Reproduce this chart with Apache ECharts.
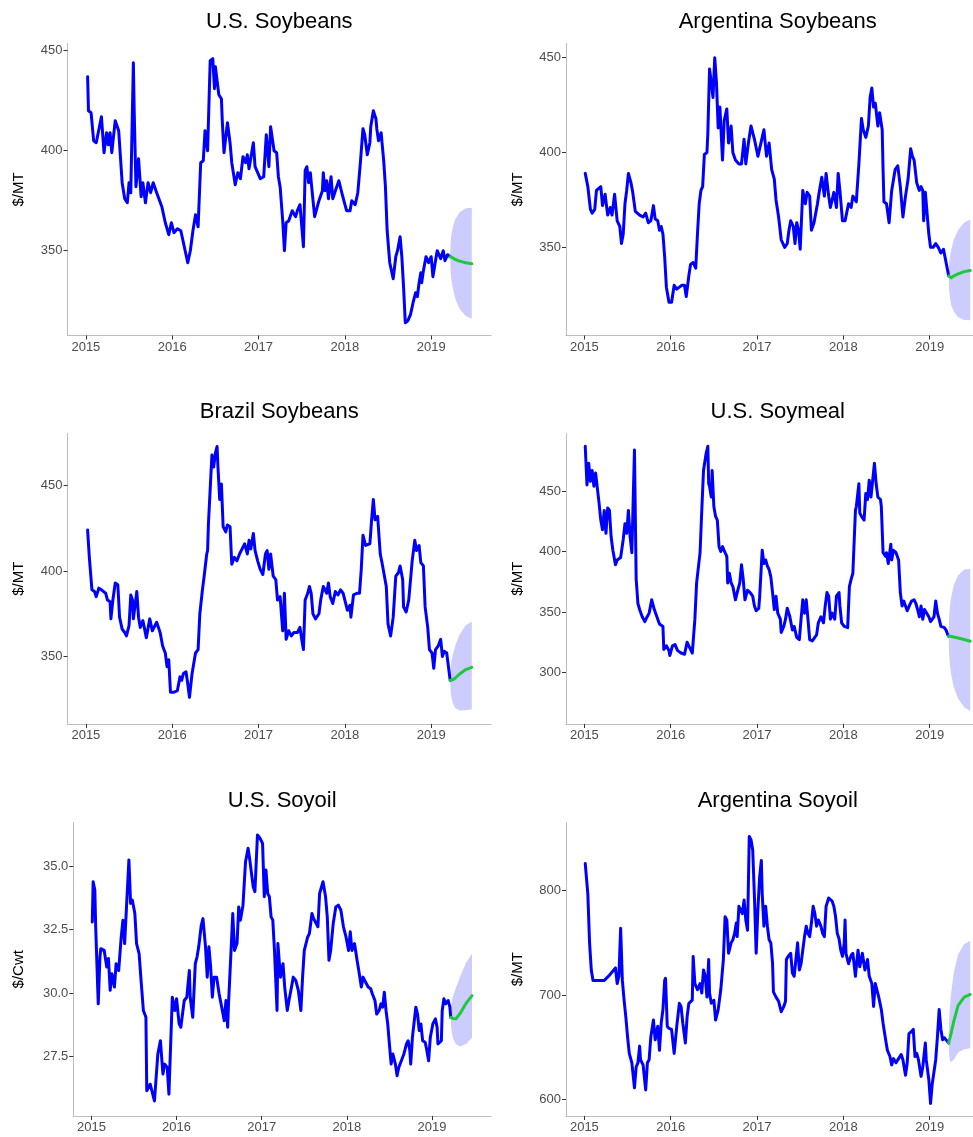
<!DOCTYPE html>
<html>
<head>
<meta charset="utf-8">
<title>Soybean complex prices and forecasts</title>
<script src="https://cdn.jsdelivr.net/npm/echarts@6.0.0/dist/echarts.min.js"></script>
<style>
  html, body { margin: 0; padding: 0; background: #ffffff; }
  #chart { width: 973px; height: 1137px; }
</style>
</head>
<body>
<div id="chart"></div>
<script>
// ---- Data: weekly prices as [decimal year, price] ----
const yearTicks = [2015, 2016, 2017, 2018, 2019];

const usSoybeans = [[2015.02,437],[2015.03,420],[2015.06,419],[2015.09,405],[2015.12,404],[2015.18,417],[2015.21,399],[2015.24,409],[2015.26,403],[2015.28,409],[2015.30,399],[2015.34,415],[2015.38,410],[2015.42,384],[2015.45,376],[2015.48,374],[2015.50,384],[2015.52,379],[2015.55,444],[2015.56,419],[2015.58,382],[2015.61,396],[2015.64,377],[2015.66,384],[2015.69,374],[2015.72,384],[2015.75,379],[2015.78,384],[2015.82,379],[2015.88,372],[2015.92,364],[2015.96,358],[2015.99,364],[2016.02,359],[2016.06,361],[2016.10,360],[2016.14,352],[2016.18,344],[2016.21,350],[2016.24,360],[2016.27,368],[2016.30,362],[2016.33,394],[2016.36,395],[2016.38,410],[2016.41,400],[2016.44,445],[2016.47,446],[2016.49,431],[2016.50,442],[2016.52,442],[2016.54,428],[2016.57,426],[2016.58,415],[2016.60,399],[2016.64,414],[2016.67,404],[2016.69,394],[2016.73,383],[2016.76,389],[2016.79,386],[2016.82,397],[2016.85,394],[2016.87,398],[2016.89,391],[2016.94,404],[2016.96,392],[2017.02,386],[2017.06,387],[2017.09,408],[2017.12,392],[2017.14,412],[2017.18,400],[2017.21,399],[2017.23,387],[2017.25,382],[2017.28,365],[2017.30,350],[2017.32,364],[2017.35,365],[2017.39,370],[2017.43,367],[2017.45,370],[2017.48,373],[2017.52,352],[2017.54,390],[2017.56,392],[2017.58,384],[2017.60,389],[2017.62,380],[2017.65,367],[2017.70,375],[2017.74,380],[2017.75,389],[2017.77,380],[2017.79,385],[2017.81,376],[2017.84,387],[2017.86,376],[2017.89,380],[2017.93,385],[2017.97,378],[2018.02,370],[2018.06,370],[2018.08,375],[2018.12,373],[2018.15,379],[2018.18,394],[2018.21,411],[2018.23,408],[2018.26,398],[2018.29,404],[2018.30,412],[2018.33,420],[2018.36,416],[2018.37,411],[2018.39,405],[2018.42,409],[2018.45,395],[2018.47,382],[2018.49,360],[2018.52,344],[2018.56,336],[2018.59,347],[2018.61,350],[2018.64,357],[2018.66,347],[2018.68,332],[2018.70,314],[2018.73,315],[2018.76,318],[2018.79,324],[2018.82,329],[2018.84,327],[2018.86,334],[2018.88,339],[2018.89,334],[2018.91,340],[2018.94,347],[2018.97,344],[2019.00,347],[2019.02,337],[2019.05,345],[2019.07,350],[2019.09,349],[2019.11,346],[2019.14,350],[2019.16,345],[2019.19,348],[2019.22,347]];

const argSoybeans = [[2015.01,389],[2015.04,382],[2015.07,370],[2015.09,368],[2015.12,370],[2015.14,380],[2015.16,380],[2015.19,382],[2015.21,372],[2015.24,378],[2015.27,367],[2015.30,371],[2015.32,367],[2015.35,378],[2015.36,377],[2015.38,364],[2015.41,361],[2015.43,352],[2015.45,357],[2015.47,373],[2015.49,380],[2015.51,389],[2015.54,384],[2015.56,379],[2015.59,369],[2015.64,367],[2015.68,366],[2015.71,368],[2015.74,363],[2015.77,364],[2015.80,372],[2015.82,365],[2015.85,364],[2015.87,359],[2015.89,361],[2015.91,357],[2015.93,345],[2015.95,329],[2015.98,321],[2016.01,321],[2016.04,330],[2016.07,328],[2016.10,329],[2016.13,330],[2016.16,330],[2016.18,324],[2016.21,335],[2016.23,341],[2016.26,342],[2016.29,339],[2016.31,357],[2016.33,373],[2016.35,380],[2016.37,382],[2016.39,399],[2016.42,400],[2016.43,410],[2016.45,444],[2016.47,437],[2016.49,429],[2016.51,450],[2016.53,437],[2016.55,413],[2016.57,424],[2016.60,396],[2016.62,417],[2016.65,423],[2016.67,405],[2016.70,414],[2016.72,400],[2016.75,396],[2016.79,394],[2016.82,394],[2016.85,407],[2016.87,394],[2016.90,405],[2016.93,414],[2016.97,407],[2017.01,398],[2017.03,398],[2017.06,408],[2017.08,412],[2017.11,398],[2017.14,405],[2017.17,391],[2017.20,386],[2017.22,375],[2017.25,366],[2017.28,354],[2017.32,350],[2017.35,352],[2017.37,359],[2017.39,364],[2017.42,361],[2017.44,352],[2017.46,363],[2017.48,359],[2017.50,349],[2017.53,380],[2017.56,373],[2017.58,379],[2017.61,377],[2017.63,359],[2017.66,363],[2017.70,373],[2017.72,379],[2017.75,387],[2017.78,377],[2017.80,389],[2017.83,377],[2017.85,371],[2017.89,379],[2017.92,371],[2017.94,389],[2017.96,380],[2017.99,364],[2018.02,364],[2018.06,373],[2018.09,371],[2018.11,377],[2018.15,374],[2018.18,394],[2018.21,418],[2018.23,412],[2018.26,408],[2018.29,414],[2018.31,429],[2018.33,434],[2018.35,424],[2018.37,426],[2018.40,414],[2018.42,421],[2018.45,412],[2018.46,391],[2018.47,374],[2018.50,373],[2018.53,363],[2018.56,380],[2018.60,391],[2018.63,393],[2018.66,382],[2018.69,366],[2018.72,377],[2018.75,386],[2018.78,402],[2018.80,398],[2018.82,396],[2018.85,384],[2018.88,380],[2018.90,382],[2018.92,380],[2018.93,364],[2018.95,379],[2018.97,379],[2018.99,357],[2019.01,350],[2019.04,350],[2019.07,352],[2019.10,350],[2019.13,347],[2019.16,349],[2019.19,342],[2019.22,335]];

const brazilSoybeans = [[2015.02,424],[2015.04,408],[2015.07,389],[2015.10,388],[2015.12,385],[2015.15,390],[2015.18,389],[2015.20,390],[2015.23,387],[2015.25,383],[2015.28,382],[2015.29,372],[2015.31,382],[2015.34,393],[2015.37,392],[2015.39,373],[2015.42,366],[2015.45,364],[2015.47,362],[2015.50,368],[2015.52,386],[2015.54,383],[2015.55,372],[2015.59,388],[2015.61,373],[2015.63,367],[2015.66,371],[2015.70,361],[2015.74,372],[2015.77,365],[2015.79,364],[2015.82,370],[2015.86,364],[2015.89,356],[2015.92,352],[2015.94,344],[2015.96,348],[2015.98,329],[2016.02,329],[2016.06,330],[2016.09,338],[2016.11,336],[2016.13,340],[2016.16,341],[2016.18,334],[2016.20,326],[2016.23,340],[2016.27,352],[2016.30,354],[2016.32,375],[2016.35,389],[2016.37,397],[2016.40,410],[2016.41,412],[2016.42,428],[2016.44,448],[2016.46,468],[2016.48,461],[2016.50,469],[2016.52,473],[2016.53,461],[2016.55,442],[2016.57,451],[2016.59,426],[2016.62,423],[2016.64,427],[2016.67,426],[2016.69,404],[2016.72,408],[2016.75,406],[2016.78,410],[2016.81,413],[2016.84,416],[2016.87,410],[2016.89,418],[2016.91,413],[2016.94,422],[2016.96,412],[2016.99,406],[2017.02,401],[2017.05,398],[2017.08,410],[2017.10,412],[2017.12,401],[2017.14,410],[2017.17,397],[2017.20,395],[2017.22,383],[2017.25,385],[2017.28,365],[2017.29,364],[2017.30,387],[2017.32,360],[2017.35,365],[2017.38,362],[2017.41,364],[2017.45,364],[2017.48,367],[2017.50,360],[2017.52,354],[2017.54,383],[2017.57,387],[2017.59,391],[2017.61,387],[2017.63,375],[2017.66,372],[2017.70,375],[2017.72,383],[2017.75,391],[2017.79,387],[2017.81,393],[2017.83,385],[2017.86,381],[2017.89,388],[2017.92,386],[2017.95,389],[2017.98,387],[2018.00,383],[2018.03,377],[2018.06,380],[2018.07,373],[2018.10,386],[2018.14,387],[2018.17,387],[2018.19,401],[2018.21,421],[2018.24,415],[2018.26,414],[2018.29,416],[2018.31,430],[2018.33,442],[2018.35,430],[2018.38,432],[2018.41,410],[2018.43,405],[2018.45,406],[2018.48,391],[2018.50,369],[2018.53,362],[2018.56,373],[2018.59,397],[2018.62,399],[2018.64,403],[2018.67,395],[2018.68,379],[2018.71,376],[2018.74,383],[2018.78,406],[2018.81,418],[2018.83,412],[2018.86,415],[2018.88,405],[2018.91,403],[2018.93,379],[2018.96,367],[2018.98,354],[2019.01,352],[2019.03,343],[2019.05,354],[2019.08,356],[2019.11,360],[2019.13,350],[2019.15,353],[2019.18,352],[2019.20,344],[2019.22,336]];

const usSoymeal = [[2015.01,487],[2015.03,455],[2015.05,473],[2015.07,458],[2015.09,467],[2015.11,454],[2015.13,465],[2015.15,466],[2015.17,440],[2015.19,426],[2015.21,418],[2015.23,434],[2015.25,415],[2015.27,436],[2015.29,434],[2015.31,412],[2015.33,401],[2015.36,389],[2015.38,393],[2015.42,395],[2015.45,410],[2015.47,423],[2015.49,415],[2015.51,434],[2015.53,412],[2015.55,399],[2015.58,484],[2015.60,377],[2015.62,357],[2015.64,352],[2015.67,346],[2015.70,342],[2015.72,345],[2015.75,349],[2015.78,360],[2015.81,352],[2015.85,344],[2015.87,340],[2015.91,338],[2015.92,319],[2015.95,322],[2015.98,318],[2015.99,314],[2016.02,322],[2016.05,323],[2016.08,318],[2016.12,316],[2016.16,315],[2016.19,325],[2016.21,322],[2016.25,316],[2016.26,316],[2016.28,344],[2016.30,374],[2016.32,374],[2016.34,399],[2016.36,434],[2016.38,467],[2016.41,481],[2016.43,487],[2016.44,456],[2016.45,454],[2016.47,445],[2016.48,467],[2016.50,437],[2016.52,429],[2016.54,426],[2016.56,404],[2016.58,400],[2016.60,404],[2016.63,399],[2016.65,396],[2016.66,374],[2016.68,382],[2016.70,374],[2016.72,371],[2016.75,360],[2016.77,366],[2016.80,374],[2016.82,389],[2016.84,377],[2016.86,360],[2016.89,368],[2016.92,366],[2016.95,363],[2016.97,355],[2016.99,351],[2017.02,353],[2017.03,362],[2017.06,401],[2017.08,390],[2017.10,393],[2017.12,388],[2017.14,385],[2017.16,379],[2017.18,366],[2017.20,352],[2017.22,363],[2017.24,349],[2017.27,344],[2017.28,333],[2017.31,338],[2017.33,344],[2017.35,353],[2017.38,346],[2017.41,335],[2017.43,338],[2017.46,329],[2017.49,327],[2017.51,344],[2017.53,360],[2017.55,349],[2017.57,360],[2017.59,344],[2017.61,327],[2017.64,326],[2017.66,327],[2017.69,331],[2017.71,341],[2017.74,346],[2017.77,341],[2017.79,355],[2017.81,366],[2017.83,363],[2017.85,344],[2017.87,349],[2017.90,344],[2017.92,363],[2017.95,366],[2017.96,355],[2017.98,341],[2018.01,338],[2018.05,337],[2018.07,371],[2018.09,377],[2018.11,382],[2018.14,434],[2018.15,437],[2018.18,456],[2018.19,432],[2018.21,429],[2018.24,426],[2018.26,448],[2018.28,443],[2018.30,459],[2018.32,445],[2018.34,459],[2018.36,473],[2018.38,456],[2018.40,445],[2018.43,443],[2018.44,437],[2018.46,399],[2018.49,396],[2018.50,399],[2018.52,390],[2018.55,406],[2018.56,393],[2018.58,401],[2018.61,399],[2018.64,393],[2018.66,366],[2018.68,355],[2018.70,359],[2018.72,355],[2018.74,351],[2018.77,356],[2018.79,359],[2018.82,360],[2018.84,357],[2018.86,352],[2018.88,346],[2018.90,355],[2018.92,344],[2018.94,352],[2018.96,351],[2018.99,346],[2019.01,342],[2019.05,346],[2019.07,359],[2019.09,349],[2019.11,344],[2019.13,338],[2019.15,338],[2019.17,337],[2019.19,335],[2019.21,331],[2019.22,330]];

const usSoyoil = [[2015.01,32.8],[2015.02,34.38],[2015.04,34.05],[2015.05,32.6],[2015.08,29.58],[2015.10,31.42],[2015.11,31.75],[2015.15,31.68],[2015.18,31.03],[2015.20,31.36],[2015.22,30.11],[2015.24,30.76],[2015.27,30.24],[2015.29,31.16],[2015.32,30.89],[2015.35,32.21],[2015.37,32.87],[2015.39,31.95],[2015.41,31.88],[2015.44,35.24],[2015.46,33.53],[2015.48,33.66],[2015.51,33.13],[2015.53,31.95],[2015.56,31.55],[2015.58,30.63],[2015.61,29.32],[2015.64,29.05],[2015.65,26.16],[2015.69,26.42],[2015.71,26.49],[2015.74,25.76],[2015.76,25.7],[2015.78,27.61],[2015.81,28.13],[2015.84,26.82],[2015.86,27.21],[2015.89,27.08],[2015.91,26.03],[2015.93,26.09],[2015.95,29.84],[2015.98,29.32],[2016.00,29.78],[2016.03,28.79],[2016.05,28.66],[2016.09,29.71],[2016.12,29.84],[2016.15,30.89],[2016.16,29.84],[2016.19,29.05],[2016.22,31.16],[2016.24,31.42],[2016.26,31.82],[2016.29,32.67],[2016.31,32.93],[2016.34,31.82],[2016.36,30.63],[2016.38,31.82],[2016.40,31.03],[2016.42,29.84],[2016.44,30.63],[2016.47,30.63],[2016.50,29.97],[2016.53,29.45],[2016.56,28.92],[2016.58,29.71],[2016.60,28.66],[2016.61,29.58],[2016.64,31.68],[2016.66,33.13],[2016.68,31.68],[2016.71,31.95],[2016.73,33.39],[2016.75,32.87],[2016.78,33.46],[2016.81,35.17],[2016.84,35.7],[2016.86,35.24],[2016.88,34.71],[2016.90,34.18],[2016.92,33.99],[2016.95,36.22],[2016.98,36.09],[2017.01,35.89],[2017.03,33.79],[2017.05,34.84],[2017.07,33.92],[2017.09,33.79],[2017.11,33.0],[2017.13,32.87],[2017.15,31.68],[2017.18,29.32],[2017.19,31.95],[2017.22,30.63],[2017.25,31.16],[2017.27,30.24],[2017.30,29.32],[2017.32,29.71],[2017.35,30.24],[2017.37,30.63],[2017.40,30.5],[2017.43,30.11],[2017.46,29.32],[2017.48,30.63],[2017.50,31.68],[2017.52,31.68],[2017.54,32.21],[2017.56,32.34],[2017.59,33.13],[2017.61,32.93],[2017.64,32.74],[2017.66,32.61],[2017.68,33.92],[2017.70,33.99],[2017.72,34.38],[2017.75,33.79],[2017.77,33.0],[2017.79,31.29],[2017.81,31.68],[2017.84,32.74],[2017.87,33.39],[2017.90,33.46],[2017.93,33.26],[2017.96,32.61],[2017.99,32.21],[2018.02,31.68],[2018.04,32.41],[2018.06,31.68],[2018.09,31.95],[2018.12,31.29],[2018.14,30.89],[2018.17,30.24],[2018.19,30.63],[2018.21,30.5],[2018.23,30.37],[2018.25,30.24],[2018.28,30.17],[2018.30,29.97],[2018.33,29.71],[2018.35,29.18],[2018.38,29.32],[2018.40,29.58],[2018.42,29.45],[2018.44,30.04],[2018.46,29.32],[2018.48,28.79],[2018.50,28.0],[2018.52,27.21],[2018.54,27.61],[2018.57,27.21],[2018.59,26.75],[2018.61,27.08],[2018.64,27.34],[2018.67,27.61],[2018.70,28.0],[2018.72,28.13],[2018.74,27.74],[2018.75,27.21],[2018.77,28.26],[2018.81,29.45],[2018.83,29.18],[2018.85,28.53],[2018.87,28.79],[2018.89,28.13],[2018.92,28.07],[2018.94,27.74],[2018.96,27.34],[2018.98,28.26],[2019.01,28.79],[2019.04,28.99],[2019.06,28.66],[2019.07,28.0],[2019.09,28.0],[2019.11,28.13],[2019.12,29.32],[2019.14,29.78],[2019.16,29.58],[2019.19,29.71],[2019.21,29.45],[2019.22,29.05]];

const argSoyoil = [[2015.01,826],[2015.04,797],[2015.06,750],[2015.08,724],[2015.10,714],[2015.15,714],[2015.23,714],[2015.29,719],[2015.36,726],[2015.38,711],[2015.40,718],[2015.42,764],[2015.44,714],[2015.46,695],[2015.48,679],[2015.50,660],[2015.52,644],[2015.55,635],[2015.58,611],[2015.60,631],[2015.62,635],[2015.64,651],[2015.65,638],[2015.68,633],[2015.71,609],[2015.73,635],[2015.75,638],[2015.77,660],[2015.80,676],[2015.82,657],[2015.85,670],[2015.87,647],[2015.89,673],[2015.91,686],[2015.93,714],[2015.94,716],[2015.96,670],[2015.98,668],[2016.01,667],[2016.04,644],[2016.07,670],[2016.10,692],[2016.12,689],[2016.14,673],[2016.17,654],[2016.19,679],[2016.21,692],[2016.25,695],[2016.26,737],[2016.28,711],[2016.31,705],[2016.34,711],[2016.36,702],[2016.38,724],[2016.40,718],[2016.42,698],[2016.44,734],[2016.45,702],[2016.47,692],[2016.50,695],[2016.52,676],[2016.55,686],[2016.58,705],[2016.61,734],[2016.63,775],[2016.65,772],[2016.67,740],[2016.70,750],[2016.72,753],[2016.74,759],[2016.76,769],[2016.77,756],[2016.79,785],[2016.81,785],[2016.83,778],[2016.85,791],[2016.87,772],[2016.89,762],[2016.91,852],[2016.93,849],[2016.95,839],[2016.97,794],[2016.99,740],[2017.01,782],[2017.03,813],[2017.05,829],[2017.06,797],[2017.08,766],[2017.10,785],[2017.12,766],[2017.14,753],[2017.16,750],[2017.18,730],[2017.19,703],[2017.22,698],[2017.25,694],[2017.28,684],[2017.31,689],[2017.33,694],[2017.34,734],[2017.36,737],[2017.39,740],[2017.41,721],[2017.43,718],[2017.45,734],[2017.47,750],[2017.49,724],[2017.51,730],[2017.53,743],[2017.55,756],[2017.57,766],[2017.59,759],[2017.61,756],[2017.63,769],[2017.65,785],[2017.67,778],[2017.69,766],[2017.71,772],[2017.74,766],[2017.76,759],[2017.78,756],[2017.80,785],[2017.83,793],[2017.85,794],[2017.87,790],[2017.89,785],[2017.91,775],[2017.93,759],[2017.95,754],[2017.97,743],[2017.99,737],[2018.01,750],[2018.02,772],[2018.03,740],[2018.06,730],[2018.09,738],[2018.11,740],[2018.14,718],[2018.15,727],[2018.17,743],[2018.19,727],[2018.22,740],[2018.25,724],[2018.28,734],[2018.30,718],[2018.33,711],[2018.35,689],[2018.37,711],[2018.39,710],[2018.41,698],[2018.44,686],[2018.46,673],[2018.49,657],[2018.51,647],[2018.54,641],[2018.56,633],[2018.58,639],[2018.61,635],[2018.64,639],[2018.67,643],[2018.69,638],[2018.72,623],[2018.74,635],[2018.76,663],[2018.79,665],[2018.81,667],[2018.83,641],[2018.85,644],[2018.87,638],[2018.90,622],[2018.92,631],[2018.95,654],[2018.96,638],[2018.99,619],[2019.01,596],[2019.03,615],[2019.05,615],[2019.07,638],[2019.09,660],[2019.11,686],[2019.13,667],[2019.15,657],[2019.17,659],[2019.19,657],[2019.22,654]];

// ---- Forecasts: point forecast with upper / lower interval bounds ----
const forecastDates = [2019.22, 2019.225, 2019.235, 2019.25, 2019.28, 2019.33, 2019.40, 2019.47];

const usSoybeansFc      = [347, 346.9, 346.7, 346.4, 345.6, 344.8, 344.0, 343.5];
const usSoybeansHi      = [347, 353.9, 358.5, 361.8, 365.8, 369.2, 371.2, 371.5];
const usSoybeansLo      = [347, 340.0, 335.1, 331.3, 325.8, 320.9, 317.3, 316.0];

const argSoybeansFc     = [335, 334.7, 334.2, 334.0, 334.9, 336.0, 337.2, 337.8];
const argSoybeansHi     = [335, 341.4, 345.4, 348.7, 354.1, 359.2, 363.1, 364.5];
const argSoybeansLo     = [335, 328.1, 323.2, 319.5, 316.0, 313.1, 311.7, 311.5];

const brazilSoybeansFc  = [336, 336.0, 336.1, 336.3, 337.4, 339.7, 342.3, 343.6];
const brazilSoybeansHi  = [336, 342.7, 347.3, 351.0, 356.6, 362.9, 368.2, 370.3];
const brazilSoybeansLo  = [336, 329.8, 325.8, 322.8, 319.7, 318.3, 318.4, 319.0];

const usSoymealFc       = [330, 330.0, 329.9, 329.7, 329.2, 328.5, 327.2, 325.8];
const usSoymealHi       = [330, 344.9, 355.0, 362.5, 372.2, 380.4, 385.1, 385.5];
const usSoymealLo       = [330, 315.5, 305.6, 297.9, 287.6, 278.2, 271.1, 268.0];

const usSoyoilFc        = [29.05, 29.04, 29.02, 29.00, 28.99, 29.20, 29.60, 29.90];
const usSoyoilHi        = [29.05, 29.45, 29.72, 29.92, 30.20, 30.65, 31.20, 31.55];
const usSoyoilLo        = [29.05, 28.65, 28.40, 28.20, 28.00, 27.90, 28.00, 28.25];

const argSoyoilFc       = [654, 656, 659, 664, 675, 690, 698, 700.5];
const argSoyoilHi       = [654, 675, 690, 703, 722, 739, 749, 752];
const argSoyoilLo       = [654, 643, 637, 636, 638, 645, 648, 649];

// ---- Tick labels ----
const soyTicks    = [350, 400, 450];
const mealTicks   = [300, 350, 400, 450];
const oilTicks    = [27.5, 30.0, 32.5, 35.0];
const argOilTicks = [600, 700, 800];

// ---- Panel layout ----
// Each panel spans X_MIN..X_MAX over PANEL_W pixels; the right-hand column is
// cut by the page edge, so its grid stops there with a matching axis maximum.
const X_MIN = 2014.787, X_MAX = 2019.693;
const PANEL_W = 423.5;
const PAGE_W = 973;

const panels = [
  { title: 'U.S. Soybeans',      unit: '$/MT',  hist: usSoybeans,     fc: usSoybeansFc,     hi: usSoybeansHi,     lo: usSoybeansLo,
    ticks: soyTicks,    dec: 0, yMin: 307.6, yMax: 453.6, left: 67.5, top: 43.5,  height: 292,   nameGap: 41 },
  { title: 'Argentina Soybeans', unit: '$/MT',  hist: argSoybeans,    fc: argSoybeansFc,    hi: argSoybeansHi,    lo: argSoybeansLo,
    ticks: soyTicks,    dec: 0, yMin: 303.5, yMax: 457.5, left: 566,  top: 43.5,  height: 292,   nameGap: 41 },
  { title: 'Brazil Soybeans',    unit: '$/MT',  hist: brazilSoybeans, fc: brazilSoybeansFc, hi: brazilSoybeansHi, lo: brazilSoybeansLo,
    ticks: soyTicks,    dec: 0, yMin: 310.4, yMax: 480.6, left: 67.5, top: 433.5, height: 290.5, nameGap: 41 },
  { title: 'U.S. Soymeal',       unit: '$/MT',  hist: usSoymeal,      fc: usSoymealFc,      hi: usSoymealHi,      lo: usSoymealLo,
    ticks: mealTicks,   dec: 0, yMin: 257.3, yMax: 497.6, left: 566,  top: 433.5, height: 290.5, nameGap: 41 },
  { title: 'U.S. Soyoil',        unit: '$/Cwt', hist: usSoyoil,       fc: usSoyoilFc,       hi: usSoyoilHi,       lo: usSoyoilLo,
    ticks: oilTicks,    dec: 1, yMin: 25.17, yMax: 36.71, left: 73.3, top: 822.5, height: 293.5, nameGap: 47, width: 417.7 },
  { title: 'Argentina Soyoil',   unit: '$/MT',  hist: argSoyoil,      fc: argSoyoilFc,      hi: argSoyoilHi,      lo: argSoyoilLo,
    ticks: argOilTicks, dec: 0, yMin: 584,   yMax: 865.4, left: 566,  top: 822.5, height: 293.5, nameGap: 41 }
];

const FONT = '"Liberation Sans", Arial, Helvetica, sans-serif';
const LINE_BLUE = '#0000FF';
const FC_GREEN = '#1FC93D';
const BAND_FILL = '#CCCCFF';
const AXIS_GREY = '#BEBEBE';
const TICK_DARK = '#333333';
const LABEL_GREY = '#4D4D4D';

const grids = [], xAxes = [], yAxes = [], series = [], graphics = [];

panels.forEach((p, i) => {
  const fullW = p.width || PANEL_W;
  const gridW = Math.min(fullW, PAGE_W - p.left);
  const xMax = X_MIN + (X_MAX - X_MIN) * gridW / fullW;

  grids.push({ left: p.left, top: p.top, width: gridW, height: p.height, containLabel: false });

  xAxes.push({
    type: 'value', gridIndex: i, min: X_MIN, max: xMax,
    axisLine: { show: true, onZero: false, lineStyle: { color: AXIS_GREY, width: 1.1 } },
    axisTick: { show: true, length: 4, customValues: yearTicks, lineStyle: { color: TICK_DARK, width: 1 } },
    axisLabel: { show: true, customValues: yearTicks, margin: 5, color: LABEL_GREY, fontSize: 13, fontFamily: FONT,
                 formatter: v => String(Math.round(v)) },
    splitLine: { show: false }
  });

  yAxes.push({
    type: 'value', gridIndex: i, min: p.yMin, max: p.yMax,
    name: p.unit, nameLocation: 'middle', nameRotate: 90, nameGap: p.nameGap,
    nameTextStyle: { color: '#000000', fontSize: 15, fontFamily: FONT },
    axisLine: { show: true, onZero: false, lineStyle: { color: AXIS_GREY, width: 1.1 } },
    axisTick: { show: true, length: 4, customValues: p.ticks, lineStyle: { color: TICK_DARK, width: 1 } },
    axisLabel: { show: true, customValues: p.ticks, margin: 5, color: LABEL_GREY, fontSize: 13, fontFamily: FONT,
                 formatter: v => v.toFixed(p.dec) },
    splitLine: { show: false }
  });

  // forecast interval band
  series.push({
    type: 'custom', xAxisIndex: i, yAxisIndex: i, silent: true, clip: true, z: 1,
    data: [[p.hist[p.hist.length - 1][0], p.fc[0]]],
    renderItem: (params, api) => {
      const pts = [];
      for (let k = 0; k < forecastDates.length; k++) pts.push(api.coord([forecastDates[k], p.hi[k]]));
      for (let k = forecastDates.length - 1; k >= 0; k--) pts.push(api.coord([forecastDates[k], p.lo[k]]));
      return { type: 'polygon', shape: { points: pts }, style: { fill: BAND_FILL, stroke: null } };
    }
  });

  // observed prices
  series.push({
    type: 'line', xAxisIndex: i, yAxisIndex: i, data: p.hist, z: 2,
    showSymbol: false, symbol: 'none', smooth: false,
    lineStyle: { color: LINE_BLUE, width: 3, join: 'round', cap: 'round' },
    itemStyle: { color: LINE_BLUE }
  });

  // point forecast
  series.push({
    type: 'line', xAxisIndex: i, yAxisIndex: i, z: 3,
    data: forecastDates.map((d, k) => [d, p.fc[k]]),
    showSymbol: false, symbol: 'none', smooth: false,
    lineStyle: { color: FC_GREEN, width: 3, join: 'round', cap: 'round' },
    itemStyle: { color: FC_GREEN }
  });

  // panel title centred over the full plotting area
  graphics.push({
    type: 'text', x: p.left + fullW / 2, y: p.top - 21.5, silent: true,
    style: { text: p.title, fill: '#000000', font: '22px ' + FONT, textAlign: 'center', textVerticalAlign: 'middle' }
  });
});

const chart = echarts.init(document.getElementById('chart'), null, { renderer: 'canvas' });
chart.setOption({
  backgroundColor: '#ffffff',
  animation: false,
  grid: grids,
  xAxis: xAxes,
  yAxis: yAxes,
  series: series,
  graphic: graphics
});
</script>
</body>
</html>
